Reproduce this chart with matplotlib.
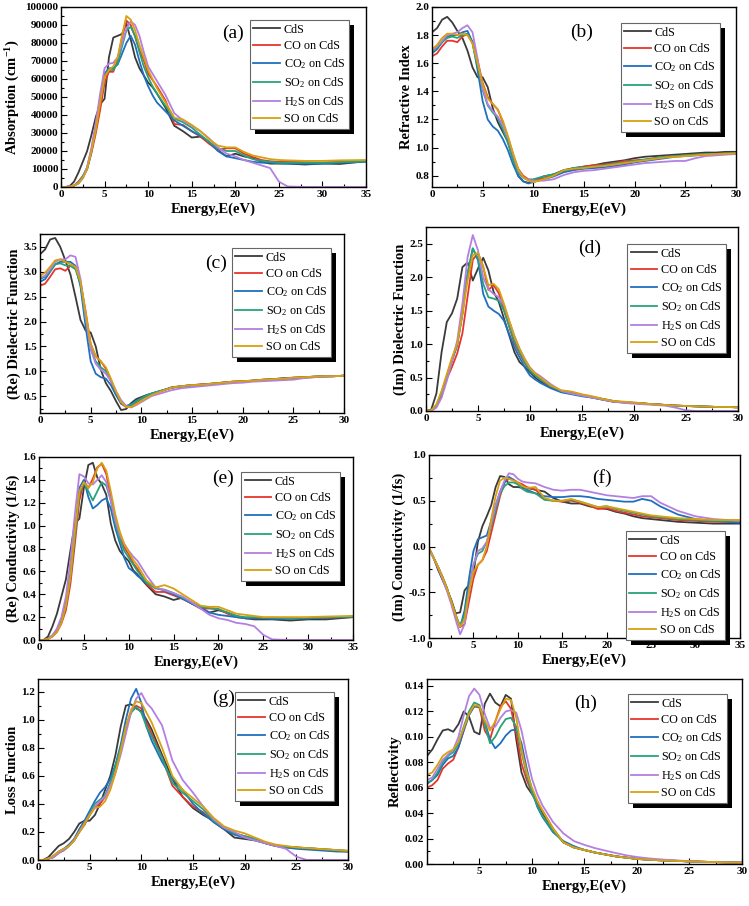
import matplotlib
matplotlib.use('Agg')
import matplotlib.pyplot as plt
from matplotlib.patches import Rectangle
from matplotlib.ticker import MultipleLocator, FormatStrFormatter

plt.rcParams['font.family'] = ['Liberation Serif', 'DejaVu Serif']
plt.rcParams['mathtext.fontset'] = 'custom'
plt.rcParams['mathtext.rm'] = 'Liberation Serif'
plt.rcParams['mathtext.it'] = 'Liberation Serif:italic'
plt.rcParams['mathtext.bf'] = 'Liberation Serif:bold'

# ---------------- data ----------------
SERIES = ['CdS', 'CO on CdS', r'CO$_2$ on CdS', r'SO$_2$ on CdS', r'H$_2$S on CdS', 'SO on CdS']
COLORS = ['#3a3a3a', '#e8352b', '#1f6fbf', '#27a27a', '#b47fe2', '#d9a00f']

# energy grids (eV)
X35 = [0, 0.5, 1, 1.5, 2, 2.5, 3, 3.5, 4, 4.5, 5, 5.5, 6, 6.5, 7, 7.5, 8, 8.5, 9, 9.5, 10, 10.5, 11,
       12, 13, 14, 15, 16, 17, 18, 19, 20, 21, 22, 23, 24, 25, 26, 28, 30, 32, 35]
X30 = [0, 0.5, 1, 1.5, 2, 2.5, 3, 3.5, 4, 4.5, 5, 5.5, 6, 6.5, 7, 7.5, 8, 8.5, 9, 9.5, 10, 10.5, 11,
       12, 13, 14, 15, 16, 17, 18, 19, 20, 21, 22, 23, 24, 25, 26, 27, 28, 29, 30]

# (a) absorption, in units of 1000 cm^-1
A_CDS = [0, 0, 0.5, 3, 8, 14, 20, 29, 39, 46, 49, 72, 83, 84, 85, 91, 82, 72, 66, 62, 58, 55.5, 52,
         44, 34, 31, 27.5, 28, 25, 20.5, 17, 18.5, 17, 16, 14, 13, 13, 13, 12.5, 13, 12.8, 14.3]
A_CO = [0, 0, 0.2, 0.8, 3, 6, 10, 19, 30, 43, 58, 64, 64, 70.5, 83, 92.5, 90, 83.5, 76, 70.5, 63, 59.5, 56,
        48, 35, 34.5, 31, 28, 24, 20.5, 21.5, 21.5, 18.5, 16.7, 15, 14.3, 14, 14, 13.8, 13.5, 14, 14.5]
A_CO2 = [0, 0, 0.2, 0.8, 2, 5, 10, 20, 34, 50, 63, 66, 66, 68, 74, 80, 84, 79, 70, 62, 56, 51, 47,
         42, 37, 34, 31, 28.5, 25, 20, 17, 16, 15, 14, 13.5, 13.5, 13.2, 13, 13, 13, 13.5, 14]
A_SO2 = [0, 0, 0.2, 0.8, 2.5, 6, 11, 21, 33, 48, 62, 65, 65, 69, 78, 87, 89, 84, 75, 67, 61, 56, 52,
         45, 38, 36, 33, 29, 25, 21.5, 20, 20, 17.5, 15.5, 14.5, 14, 13.5, 13.5, 13.5, 13.5, 13.8, 14.3]
A_H2S = [0, 0, 0.2, 0.8, 2, 5, 11, 22, 36, 52, 66, 68.5, 69, 72, 80, 88, 92, 90, 84, 75, 67, 63, 59,
         51, 41, 37, 34, 31, 27, 22, 18.5, 17, 15, 13.5, 12, 10.5, 3, 0.3, 0, 0, 0, 0]
A_SO = [0, 0, 0.2, 0.8, 2, 5, 10, 20, 32, 47, 61, 65, 67, 72, 84, 95, 93, 87, 79, 72, 65, 60, 55,
        47, 38.5, 37.5, 34.5, 31, 26.5, 23, 22, 22, 19.5, 17.5, 16.5, 15.5, 15, 14.8, 14.5, 14.5, 14.8, 15]

# (b) refractive index
B_CDS = [1.82, 1.85, 1.91, 1.93, 1.89, 1.83, 1.78, 1.69, 1.57, 1.50, 1.50, 1.43, 1.28, 1.18, 1.11, 1.04, 0.92, 0.80, 0.76, 0.75, 0.77, 0.78, 0.795,
         0.81, 0.84, 0.855, 0.865, 0.875, 0.89, 0.90, 0.91, 0.925, 0.935, 0.94, 0.945, 0.95, 0.955, 0.96, 0.965, 0.965, 0.97, 0.97]
B_CO = [1.65, 1.67, 1.72, 1.76, 1.76, 1.75, 1.79, 1.81, 1.75, 1.62, 1.46, 1.36, 1.31, 1.27, 1.18, 1.07, 0.95, 0.85, 0.80, 0.775, 0.77, 0.775, 0.78,
        0.80, 0.83, 0.85, 0.865, 0.875, 0.88, 0.89, 0.905, 0.91, 0.915, 0.925, 0.935, 0.94, 0.945, 0.95, 0.955, 0.955, 0.96, 0.96]
B_CO2 = [1.67, 1.70, 1.75, 1.79, 1.80, 1.80, 1.82, 1.83, 1.75, 1.55, 1.33, 1.20, 1.15, 1.12, 1.06, 0.98, 0.88, 0.80, 0.76, 0.745, 0.755, 0.765, 0.775,
         0.795, 0.825, 0.84, 0.85, 0.855, 0.86, 0.87, 0.88, 0.895, 0.905, 0.915, 0.925, 0.935, 0.94, 0.945, 0.95, 0.955, 0.955, 0.96]
B_SO2 = [1.68, 1.71, 1.75, 1.78, 1.79, 1.78, 1.80, 1.81, 1.74, 1.58, 1.41, 1.30, 1.25, 1.21, 1.13, 1.03, 0.91, 0.82, 0.785, 0.77, 0.775, 0.785, 0.795,
         0.81, 0.835, 0.855, 0.86, 0.865, 0.875, 0.885, 0.895, 0.905, 0.915, 0.925, 0.935, 0.94, 0.945, 0.95, 0.955, 0.955, 0.96, 0.96]
B_H2S = [1.69, 1.72, 1.76, 1.80, 1.81, 1.82, 1.85, 1.87, 1.82, 1.63, 1.42, 1.31, 1.26, 1.22, 1.16, 1.07, 0.95, 0.84, 0.79, 0.77, 0.765, 0.765, 0.765,
         0.775, 0.805, 0.825, 0.835, 0.84, 0.85, 0.86, 0.87, 0.88, 0.89, 0.895, 0.90, 0.905, 0.905, 0.925, 0.94, 0.945, 0.95, 0.955]
B_SO = [1.70, 1.73, 1.78, 1.81, 1.81, 1.80, 1.81, 1.80, 1.74, 1.60, 1.45, 1.35, 1.31, 1.27, 1.19, 1.08, 0.96, 0.85, 0.79, 0.765, 0.755, 0.765, 0.775,
        0.80, 0.84, 0.85, 0.855, 0.865, 0.87, 0.88, 0.89, 0.90, 0.91, 0.92, 0.93, 0.935, 0.94, 0.945, 0.95, 0.955, 0.955, 0.96]

# (c) real dielectric function
C_CDS = [3.35, 3.45, 3.65, 3.68, 3.5, 3.23, 2.95, 2.5, 2.03, 1.82, 1.78, 1.5, 1.03, 0.76, 0.6, 0.4, 0.22, 0.24, 0.36, 0.44, 0.48, 0.52, 0.55,
         0.61, 0.67, 0.7, 0.72, 0.73, 0.75, 0.77, 0.79, 0.8, 0.81, 0.83, 0.84, 0.86, 0.87, 0.88, 0.89, 0.9, 0.9, 0.91]
C_CO = [2.72, 2.76, 2.9, 3.05, 3.07, 3.02, 3.12, 3.1, 2.8, 2.2, 1.55, 1.3, 1.2, 1.05, 0.8, 0.55, 0.35, 0.28, 0.3, 0.37, 0.44, 0.5, 0.54,
        0.6, 0.68, 0.7, 0.72, 0.74, 0.75, 0.77, 0.79, 0.8, 0.81, 0.83, 0.84, 0.85, 0.87, 0.88, 0.89, 0.9, 0.9, 0.91]
C_CO2 = [2.8, 2.85, 3.0, 3.15, 3.2, 3.2, 3.2, 3.12, 2.7, 1.9, 1.2, 0.95, 0.88, 0.85, 0.72, 0.52, 0.35, 0.3, 0.34, 0.4, 0.46, 0.51, 0.55,
         0.61, 0.67, 0.69, 0.71, 0.72, 0.74, 0.76, 0.78, 0.79, 0.81, 0.82, 0.84, 0.85, 0.86, 0.87, 0.88, 0.89, 0.9, 0.91]
C_SO2 = [2.85, 2.9, 3.02, 3.15, 3.17, 3.13, 3.12, 3.05, 2.75, 2.05, 1.45, 1.2, 1.08, 1.0, 0.82, 0.58, 0.38, 0.3, 0.32, 0.39, 0.45, 0.51, 0.55,
         0.61, 0.67, 0.7, 0.72, 0.73, 0.75, 0.77, 0.78, 0.8, 0.81, 0.82, 0.84, 0.85, 0.86, 0.87, 0.89, 0.9, 0.9, 0.91]
C_H2S = [2.88, 2.92, 3.05, 3.2, 3.25, 3.25, 3.33, 3.3, 2.85, 2.1, 1.45, 1.15, 1.03, 0.95, 0.8, 0.6, 0.42, 0.3, 0.27, 0.32, 0.38, 0.44, 0.5,
         0.56, 0.62, 0.66, 0.68, 0.7, 0.72, 0.74, 0.76, 0.77, 0.79, 0.8, 0.81, 0.82, 0.83, 0.86, 0.88, 0.89, 0.9, 0.91]
C_SO = [2.92, 2.98, 3.1, 3.23, 3.25, 3.2, 3.15, 3.1, 2.8, 2.2, 1.55, 1.3, 1.2, 1.08, 0.85, 0.6, 0.38, 0.28, 0.28, 0.34, 0.4, 0.46, 0.52,
        0.6, 0.67, 0.7, 0.72, 0.73, 0.75, 0.77, 0.79, 0.8, 0.81, 0.83, 0.84, 0.85, 0.87, 0.88, 0.89, 0.9, 0.9, 0.91]

# (d) imaginary dielectric function
D_CDS = [0, 0.02, 0.26, 0.88, 1.33, 1.46, 1.68, 2.15, 2.22, 1.95, 2.13, 2.29, 2.1, 1.78, 1.63, 1.38, 1.13, 0.88, 0.73, 0.66, 0.58, 0.5, 0.44,
         0.36, 0.29, 0.26, 0.23, 0.2, 0.17, 0.14, 0.13, 0.12, 0.11, 0.1, 0.09, 0.08, 0.075, 0.07, 0.065, 0.06, 0.06, 0.055]
D_CO = [0, 0.01, 0.07, 0.25, 0.48, 0.66, 0.86, 1.16, 1.71, 2.26, 2.36, 2.16, 1.81, 1.88, 1.76, 1.51, 1.26, 1.01, 0.86, 0.71, 0.61, 0.535, 0.47,
        0.36, 0.3, 0.28, 0.24, 0.21, 0.18, 0.15, 0.13, 0.12, 0.11, 0.1, 0.09, 0.08, 0.075, 0.07, 0.065, 0.06, 0.06, 0.055]
D_CO2 = [0, 0.01, 0.08, 0.28, 0.52, 0.75, 0.98, 1.45, 2.05, 2.43, 2.25, 1.75, 1.56, 1.5, 1.45, 1.35, 1.15, 0.95, 0.8, 0.65, 0.53, 0.47, 0.42,
         0.34, 0.28, 0.25, 0.22, 0.2, 0.17, 0.14, 0.13, 0.12, 0.11, 0.1, 0.09, 0.08, 0.075, 0.07, 0.065, 0.06, 0.06, 0.055]
D_SO2 = [0, 0.01, 0.08, 0.28, 0.52, 0.76, 1.0, 1.45, 2.05, 2.43, 2.28, 1.9, 1.7, 1.68, 1.65, 1.5, 1.27, 1.05, 0.88, 0.73, 0.6, 0.53, 0.47,
         0.37, 0.3, 0.27, 0.24, 0.21, 0.18, 0.15, 0.13, 0.12, 0.11, 0.1, 0.09, 0.08, 0.075, 0.07, 0.065, 0.06, 0.06, 0.055]
D_H2S = [0, 0, 0.05, 0.2, 0.45, 0.75, 1.05, 1.6, 2.3, 2.63, 2.4, 2.0, 1.82, 1.75, 1.7, 1.58, 1.35, 1.12, 0.93, 0.78, 0.65, 0.57, 0.52,
         0.4, 0.3, 0.26, 0.23, 0.2, 0.17, 0.14, 0.12, 0.11, 0.1, 0.09, 0.08, 0.05, 0.01, 0, 0, 0, 0, 0]
D_SO = [0, 0.01, 0.1, 0.3, 0.55, 0.8, 1.0, 1.45, 1.95, 2.33, 2.36, 2.15, 1.88, 1.9, 1.82, 1.6, 1.35, 1.12, 0.93, 0.77, 0.64, 0.56, 0.5,
        0.38, 0.31, 0.29, 0.25, 0.22, 0.18, 0.15, 0.14, 0.13, 0.11, 0.1, 0.09, 0.08, 0.075, 0.07, 0.065, 0.06, 0.06, 0.055]

# (e) real conductivity (1/fs)
E_CDS = [0, 0, 0.03, 0.12, 0.23, 0.38, 0.53, 0.78, 1.02, 1.06, 1.33, 1.53, 1.55, 1.42, 1.36, 1.27, 1.02, 0.87, 0.78, 0.73, 0.69, 0.61, 0.57,
         0.48, 0.4, 0.38, 0.35, 0.37, 0.32, 0.28, 0.24, 0.26, 0.24, 0.21, 0.19, 0.18, 0.18, 0.18, 0.17, 0.18, 0.18, 0.2]
E_CO = [0, 0, 0.01, 0.03, 0.07, 0.145, 0.26, 0.49, 0.84, 1.22, 1.39, 1.33, 1.41, 1.51, 1.54, 1.45, 1.25, 1.04, 0.9, 0.81, 0.75, 0.67, 0.62,
        0.49, 0.42, 0.42, 0.39, 0.36, 0.32, 0.275, 0.275, 0.27, 0.23, 0.2, 0.19, 0.19, 0.19, 0.19, 0.19, 0.19, 0.195, 0.205]
E_CO2 = [0, 0, 0.01, 0.04, 0.09, 0.18, 0.32, 0.58, 0.95, 1.33, 1.4, 1.25, 1.15, 1.18, 1.22, 1.24, 1.15, 0.98, 0.85, 0.72, 0.63, 0.6, 0.56,
         0.5, 0.46, 0.43, 0.4, 0.36, 0.32, 0.28, 0.24, 0.22, 0.21, 0.2, 0.19, 0.19, 0.19, 0.185, 0.185, 0.19, 0.195, 0.2]
E_SO2 = [0, 0, 0.01, 0.04, 0.08, 0.16, 0.3, 0.55, 0.9, 1.28, 1.38, 1.3, 1.22, 1.3, 1.38, 1.35, 1.22, 1.02, 0.88, 0.78, 0.72, 0.66, 0.6,
         0.5, 0.45, 0.44, 0.41, 0.37, 0.33, 0.29, 0.28, 0.27, 0.24, 0.21, 0.2, 0.2, 0.195, 0.195, 0.19, 0.195, 0.2, 0.205]
E_H2S = [0, 0, 0.01, 0.04, 0.1, 0.2, 0.38, 0.7, 1.1, 1.45, 1.43, 1.37, 1.36, 1.4, 1.44, 1.38, 1.22, 1.05, 0.92, 0.84, 0.78, 0.73, 0.69,
         0.565, 0.46, 0.435, 0.41, 0.38, 0.33, 0.275, 0.22, 0.19, 0.175, 0.15, 0.14, 0.12, 0.045, 0.005, 0, 0, 0, 0]
E_SO = [0, 0, 0.01, 0.03, 0.07, 0.15, 0.3, 0.55, 0.95, 1.3, 1.38, 1.33, 1.38, 1.5, 1.55, 1.48, 1.3, 1.1, 0.95, 0.84, 0.77, 0.7, 0.65,
        0.52, 0.46, 0.48, 0.45, 0.4, 0.35, 0.3, 0.29, 0.29, 0.26, 0.23, 0.22, 0.21, 0.2, 0.2, 0.2, 0.2, 0.205, 0.21]

# (f) imaginary conductivity (1/fs)
F_CDS = [-0.02, -0.12, -0.25, -0.36, -0.47, -0.58, -0.73, -0.72, -0.48, -0.42, -0.3, 0.05, 0.22, 0.33, 0.45, 0.65, 0.77, 0.76, 0.68, 0.65, 0.65, 0.64, 0.64,
         0.62, 0.6, 0.53, 0.49, 0.47, 0.47, 0.44, 0.42, 0.41, 0.38, 0.36, 0.33, 0.31, 0.3, 0.29, 0.27, 0.26, 0.25, 0.25]
F_CO = [-0.02, -0.12, -0.22, -0.33, -0.45, -0.6, -0.75, -0.88, -0.85, -0.6, -0.35, -0.2, -0.15, -0.05, 0.15, 0.35, 0.55, 0.7, 0.74, 0.73, 0.7, 0.68, 0.65,
        0.62, 0.52, 0.5, 0.49, 0.5, 0.48, 0.45, 0.41, 0.42, 0.39, 0.37, 0.35, 0.33, 0.32, 0.31, 0.29, 0.28, 0.27, 0.27]
F_CO2 = [-0.02, -0.12, -0.22, -0.33, -0.45, -0.6, -0.75, -0.88, -0.7, -0.35, -0.05, 0.08, 0.1, 0.12, 0.28, 0.45, 0.6, 0.7, 0.76, 0.73, 0.68, 0.66, 0.62,
         0.58, 0.55, 0.54, 0.54, 0.55, 0.55, 0.54, 0.52, 0.51, 0.5, 0.49, 0.49, 0.52, 0.5, 0.44, 0.35, 0.3, 0.28, 0.26]
F_SO2 = [-0.02, -0.12, -0.22, -0.33, -0.45, -0.6, -0.75, -0.87, -0.75, -0.45, -0.2, -0.08, -0.05, 0.05, 0.22, 0.4, 0.58, 0.66, 0.7, 0.7, 0.68, 0.63, 0.6,
         0.58, 0.51, 0.5, 0.5, 0.51, 0.49, 0.46, 0.43, 0.44, 0.41, 0.39, 0.37, 0.35, 0.33, 0.32, 0.3, 0.29, 0.28, 0.28]
F_H2S = [-0.02, -0.12, -0.23, -0.35, -0.48, -0.63, -0.8, -0.96, -0.85, -0.5, -0.2, -0.05, -0.02, 0.05, 0.25, 0.45, 0.6, 0.72, 0.8, 0.79, 0.74, 0.71, 0.7,
         0.69, 0.65, 0.62, 0.61, 0.62, 0.62, 0.6, 0.58, 0.56, 0.55, 0.54, 0.53, 0.55, 0.55, 0.48, 0.39, 0.33, 0.3, 0.28]
F_SO = [-0.02, -0.12, -0.22, -0.33, -0.45, -0.6, -0.75, -0.88, -0.8, -0.5, -0.28, -0.2, -0.15, 0.0, 0.3, 0.55, 0.72, 0.75, 0.74, 0.72, 0.7, 0.66, 0.64,
        0.65, 0.53, 0.5, 0.5, 0.52, 0.49, 0.46, 0.43, 0.44, 0.42, 0.4, 0.38, 0.36, 0.34, 0.33, 0.31, 0.3, 0.29, 0.29]

# (g) energy loss function
G_CDS = [0, 0, 0.02, 0.06, 0.1, 0.12, 0.15, 0.2, 0.26, 0.28, 0.28, 0.32, 0.4, 0.5, 0.6, 0.75, 0.95, 1.1, 1.11, 1.08, 1.06, 1.0, 0.93,
         0.75, 0.58, 0.45, 0.37, 0.32, 0.28, 0.22, 0.16, 0.15, 0.14, 0.12, 0.1, 0.09, 0.085, 0.08, 0.075, 0.07, 0.065, 0.06]
G_CO = [0, 0, 0.01, 0.02, 0.05, 0.07, 0.1, 0.14, 0.2, 0.25, 0.32, 0.38, 0.4, 0.45, 0.55, 0.67, 0.8, 0.95, 1.05, 1.1, 1.08, 0.98, 0.9,
        0.73, 0.53, 0.45, 0.38, 0.34, 0.27, 0.22, 0.19, 0.17, 0.15, 0.12, 0.1, 0.095, 0.09, 0.085, 0.08, 0.075, 0.07, 0.065]
G_CO2 = [0, 0, 0.01, 0.03, 0.06, 0.08, 0.11, 0.15, 0.22, 0.28, 0.35, 0.42, 0.48, 0.52, 0.58, 0.68, 0.82, 1.0, 1.15, 1.22, 1.12, 0.95, 0.85,
         0.7, 0.58, 0.5, 0.4, 0.33, 0.27, 0.22, 0.18, 0.16, 0.14, 0.12, 0.1, 0.09, 0.08, 0.075, 0.07, 0.065, 0.06, 0.06]
G_SO2 = [0, 0, 0.01, 0.02, 0.05, 0.07, 0.1, 0.14, 0.2, 0.26, 0.33, 0.4, 0.43, 0.46, 0.55, 0.67, 0.8, 0.95, 1.05, 1.09, 1.05, 0.95, 0.88,
         0.73, 0.55, 0.48, 0.42, 0.36, 0.28, 0.23, 0.19, 0.17, 0.15, 0.12, 0.1, 0.095, 0.09, 0.085, 0.08, 0.075, 0.07, 0.065]
G_H2S = [0, 0, 0.01, 0.02, 0.05, 0.07, 0.1, 0.14, 0.2, 0.26, 0.32, 0.38, 0.42, 0.45, 0.53, 0.62, 0.75, 0.9, 1.05, 1.15, 1.19, 1.12, 1.08,
         0.96, 0.71, 0.57, 0.48, 0.38, 0.29, 0.23, 0.2, 0.16, 0.14, 0.12, 0.1, 0.08, 0.024, 0, 0, 0, 0, 0]
G_SO = [0, 0, 0.01, 0.03, 0.06, 0.08, 0.1, 0.14, 0.2, 0.26, 0.32, 0.37, 0.38, 0.42, 0.5, 0.62, 0.78, 0.95, 1.07, 1.13, 1.12, 1.05, 0.98,
        0.8, 0.6, 0.5, 0.44, 0.38, 0.3, 0.24, 0.21, 0.19, 0.16, 0.13, 0.11, 0.1, 0.09, 0.085, 0.08, 0.075, 0.07, 0.065]

# (h) reflectivity
H_CDS = [0.085, 0.09, 0.098, 0.105, 0.106, 0.104, 0.11, 0.12, 0.116, 0.104, 0.102, 0.126, 0.134, 0.127, 0.124, 0.133, 0.13, 0.098, 0.072, 0.061, 0.055, 0.048, 0.04,
         0.027, 0.017, 0.013, 0.011, 0.009, 0.0075, 0.006, 0.005, 0.004, 0.0035, 0.003, 0.0027, 0.0024, 0.002, 0.0018, 0.0016, 0.0014, 0.0012, 0.001]
H_CO = [0.06, 0.062, 0.066, 0.075, 0.079, 0.082, 0.092, 0.105, 0.118, 0.124, 0.123, 0.105, 0.098, 0.112, 0.124, 0.128, 0.122, 0.103, 0.079, 0.066, 0.056, 0.048, 0.042,
        0.028, 0.017, 0.013, 0.011, 0.009, 0.0075, 0.006, 0.005, 0.004, 0.0035, 0.003, 0.0027, 0.0024, 0.002, 0.0018, 0.0016, 0.0014, 0.0012, 0.001]
H_CO2 = [0.063, 0.066, 0.07, 0.078, 0.083, 0.085, 0.092, 0.105, 0.117, 0.124, 0.124, 0.112, 0.098, 0.091, 0.095, 0.101, 0.105, 0.106, 0.095, 0.075, 0.058, 0.045, 0.037,
         0.025, 0.018, 0.014, 0.011, 0.009, 0.0075, 0.006, 0.005, 0.004, 0.0035, 0.003, 0.0027, 0.0024, 0.002, 0.0018, 0.0016, 0.0014, 0.0012, 0.001]
H_SO2 = [0.064, 0.066, 0.072, 0.08, 0.085, 0.088, 0.095, 0.108, 0.12, 0.127, 0.125, 0.11, 0.095, 0.1, 0.108, 0.114, 0.115, 0.108, 0.088, 0.07, 0.056, 0.046, 0.038,
         0.026, 0.017, 0.013, 0.011, 0.009, 0.0075, 0.006, 0.005, 0.004, 0.0035, 0.003, 0.0027, 0.0024, 0.002, 0.0018, 0.0016, 0.0014, 0.0012, 0.001]
H_H2S = [0.066, 0.068, 0.075, 0.082, 0.086, 0.09, 0.1, 0.117, 0.132, 0.138, 0.133, 0.118, 0.107, 0.108, 0.115, 0.12, 0.121, 0.119, 0.105, 0.085, 0.067, 0.055, 0.046,
         0.033, 0.024, 0.018, 0.015, 0.0125, 0.0105, 0.0086, 0.0068, 0.0055, 0.0045, 0.0038, 0.0032, 0.0027, 0.0022, 0.0018, 0.0015, 0.0013, 0.0011, 0.001]
H_SO = [0.07, 0.072, 0.078, 0.085, 0.088, 0.09, 0.096, 0.107, 0.118, 0.125, 0.124, 0.113, 0.105, 0.112, 0.122, 0.13, 0.129, 0.115, 0.09, 0.072, 0.06, 0.05, 0.042,
        0.028, 0.017, 0.013, 0.011, 0.009, 0.0075, 0.006, 0.005, 0.004, 0.0035, 0.003, 0.0027, 0.0024, 0.002, 0.0018, 0.0016, 0.0014, 0.0012, 0.001]

# ---------------- figure ----------------
W, H = 749, 906
fig = plt.figure(figsize=(W / 100, H / 100), dpi=100)


def rect(l, t, r, b):
    return [l / W, 1 - b / H, (r - l) / W, (b - t) / H]


panels = [
    dict(box=(61, 7, 366, 187), x=X35, ys=[[v * 1000 for v in s] for s in (A_CDS, A_CO, A_CO2, A_SO2, A_H2S, A_SO)],
         xlim=(0, 35), ylim=(0, 100000), yt=(0, 100000, 10000), fmt='%d', ylab=r'Absorption (cm$^{\mathbf{-1}}$)',
         tag='(a)', tagpos=(0.564, 0.856), leg=(0.944, 0.928), xt=range(0, 36, 5)),
    dict(box=(432, 7, 736, 187), x=X30, ys=[B_CDS, B_CO, B_CO2, B_SO2, B_H2S, B_SO],
         xlim=(0, 30), ylim=(0.72, 2.0), yt=(0.8, 2.0, 0.2), fmt='%.1f', ylab='Refractive Index',
         tag='(b)', tagpos=(0.493, 0.861), leg=(0.947, 0.911), xt=range(0, 31, 5)),
    dict(box=(40, 234, 344, 413), x=X30, ys=[C_CDS, C_CO, C_CO2, C_SO2, C_H2S, C_SO],
         xlim=(0, 30), ylim=(0.16, 3.76), yt=(0.5, 3.5, 0.5), fmt='%.1f', ylab='(Re) Dielectric Function',
         tag='(c)', tagpos=(0.579, 0.838), leg=(0.957, 0.922), xt=range(0, 31, 5)),
    dict(box=(426, 227, 738, 411), x=X30, ys=[D_CDS, D_CO, D_CO2, D_SO2, D_H2S, D_SO],
         xlim=(0, 30), ylim=(0, 2.75), yt=(0, 2.5, 0.5), fmt='%.1f', ylab='(Im) Dielectric Function',
         tag='(d)', tagpos=(0.526, 0.886), leg=(0.962, 0.908), xt=range(0, 31, 5)),
    dict(box=(39, 457, 353, 640), x=X35, ys=[E_CDS, E_CO, E_CO2, E_SO2, E_H2S, E_SO],
         xlim=(0, 35), ylim=(0, 1.6), yt=(0, 1.6, 0.2), fmt='%.1f', ylab='(Re) Conductivity (1/fs)',
         tag='(e)', tagpos=(0.586, 0.885), leg=(0.959, 0.918), xt=range(0, 36, 5)),
    dict(box=(429, 455, 740, 638), x=X35, ys=[F_CDS, F_CO, F_CO2, F_SO2, F_H2S, F_SO],
         xlim=(0, 35), ylim=(-1, 1), yt=(-1, 1, 0.5), fmt='%.1f', ylab='(Im) Conductivity (1/fs)',
         tag='(f)', tagpos=(0.556, 0.874), leg=(0.952, 0.585), xt=range(0, 36, 5)),
    dict(box=(38, 679, 348, 860), x=X30, ys=[G_CDS, G_CO, G_CO2, G_SO2, G_H2S, G_SO],
         xlim=(0, 30), ylim=(0, 1.29), yt=(0, 1.2, 0.2), fmt='%.1f', ylab='Loss Function',
         tag='(g)', tagpos=(0.597, 0.895), leg=(0.955, 0.928), xt=range(0, 31, 5)),
    dict(box=(427, 679, 742, 864), x=X30, ys=[H_CDS, H_CO, H_CO2, H_SO2, H_H2S, H_SO],
         xlim=(0, 30), ylim=(0, 0.1455), yt=(0, 0.14, 0.02), fmt='%.2f', ylab='Reflectivity',
         tag='(h)', tagpos=(0.502, 0.870), leg=(0.952, 0.919), xt=range(5, 31, 5)),
]

legends = []
for p in panels:
    ax = fig.add_axes(rect(*p['box']))
    for y, c, lab in zip(p['ys'], COLORS, SERIES):
        ax.plot(p['x'], y, color=c, lw=1.3, label=lab)
    ax.set_xlim(*p['xlim'])
    ax.set_ylim(*p['ylim'])
    a0, a1, st = p['yt']
    n = int(round((a1 - a0) / st))
    ax.set_yticks([a0 + i * st for i in range(n + 1)])
    ax.yaxis.set_major_formatter(FormatStrFormatter(p['fmt']))
    ax.yaxis.set_minor_locator(MultipleLocator(st / 2))
    ax.set_xticks(list(p['xt']))
    ax.xaxis.set_minor_locator(MultipleLocator(2.5))
    ax.tick_params(which='both', direction='in', top=False, right=False, labelsize=8, width=0.8, pad=2)
    ax.tick_params(which='major', length=4)
    ax.tick_params(which='minor', length=2.5)
    for lbl in ax.get_xticklabels() + ax.get_yticklabels():
        lbl.set_fontweight('bold')
    for s in ax.spines.values():
        s.set_linewidth(1.0)
    ax.set_xlabel('Energy,E(eV)', fontsize=10.5, fontweight='bold', labelpad=3)
    ax.set_ylabel(p['ylab'], fontsize=10.5, fontweight='bold', labelpad=2)
    ax.text(p['tagpos'][0], p['tagpos'][1], p['tag'], transform=ax.transAxes, fontsize=14,
            ha='center', va='center')
    leg = ax.legend(loc='upper right', bbox_to_anchor=p['leg'], fontsize=8.7, frameon=True, fancybox=False,
                    edgecolor='#666666', framealpha=1, borderpad=0.3, labelspacing=0.35,
                    handlelength=2.2, handletextpad=0.3, borderaxespad=0)
    leg.get_frame().set_linewidth(0.8)
    legends.append((ax, leg))

fig.canvas.draw()
for ax, leg in legends:
    bb = leg.get_window_extent()
    sh = Rectangle((bb.x0 + 5, bb.y0 - 5), bb.width, bb.height, transform=None,
                   facecolor='black', edgecolor='none', zorder=4.9)
    sh.set_clip_on(False)
    ax.add_artist(sh)

fig.savefig('out.png', dpi=100)
